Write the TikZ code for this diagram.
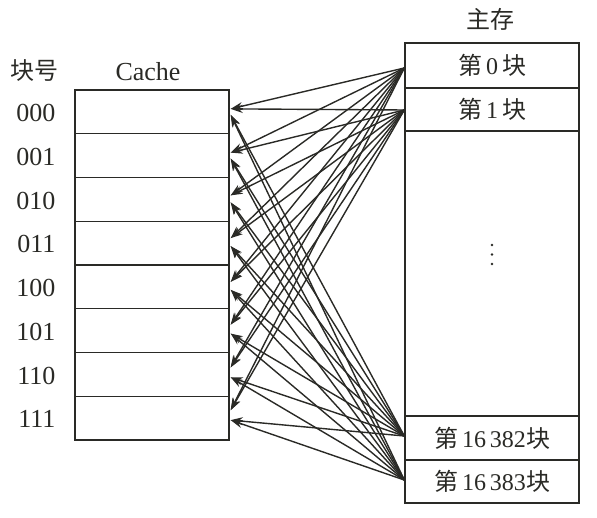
\documentclass[tikz,border=0pt]{standalone}
\usepackage{fontspec}
\setmainfont{Liberation Serif}
\newfontfamily\cjk{Noto Sans CJK SC}
\usetikzlibrary{arrows.meta,calc}
\definecolor{ink}{HTML}{2A2A26}
\begin{document}
\begin{tikzpicture}[x=1pt,y=-1pt,
  box/.style={draw=ink,line width=1.4pt,rectangle,inner sep=0pt,minimum width=154pt,minimum height=43.75pt},
  mbox/.style={draw=ink,line width=1.4pt,rectangle,inner sep=0pt,minimum width=174pt,font=\fontsize{24}{24}\selectfont,text=ink},
  lab/.style={font=\fontsize{26}{26}\selectfont,text=ink},
  clab/.style={font=\cjk\fontsize{24}{24}\selectfont,text=ink},
  arr/.style={draw=ink,line width=1.4pt,-{Stealth[length=12pt,width=8pt]}}]
\useasboundingbox (0,0) rectangle (597,518);
% headers
\node[clab] (h1) at (34,71) {块号};
\node[lab] (h2) at (148,72) {Cache};
\node[clab] (h3) at (490,19) {主存};
% cache rows
\foreach \i/\t in {0/000,1/001,2/010,3/011,4/100,5/101,6/110,7/111}{
  \node[box] (c\i) at (152,{111.875+43.75*\i}) {};
  \node[lab,anchor=east] (l\i) at (59,{113+43.75*\i}) {\t};
}
% main memory
\node[mbox,minimum height=45pt] (m0) at (492,65.5) {{\cjk 第}\,0\,{\cjk 块}};
\node[mbox,minimum height=43pt] (m1) at (492,109.5) {{\cjk 第}\,1\,{\cjk 块}};
\node[mbox,minimum height=285pt] (md) at (492,273.5) {};
\node[mbox,minimum height=44pt] (m2) at (492,438) {{\cjk 第}\,16\,382{\cjk 块}};
\node[mbox,minimum height=43pt] (m3) at (492,481.5) {{\cjk 第}\,16\,383{\cjk 块}};
% vertical ellipsis
\foreach \y in {245,254.5,264}{\fill[ink] (492,\y) circle (1.4pt);}
% sources
\coordinate (s0) at ($(m0.west)+(0,2.5)$);
\coordinate (s1) at ($(m1.west)+(0,0.5)$);
\coordinate (s2) at ($(m2.west)+(0,-2)$);
\coordinate (s3) at ($(m3.west)+(0,-1.5)$);
\foreach \i/\a/\b in {0/-3/3,1/-3/3,2/-4/3,3/-5/3,4/-5/3,5/-6/3,6/-7/3,7/-8/2}{
  \coordinate (u\i) at ($(c\i.east)+(1,\a)$);
  \coordinate (d\i) at ($(c\i.east)+(1,\b)$);
  \draw[arr] (s0) -- (u\i);
  \draw[arr] (s1) -- (u\i);
  \draw[arr] (s2) -- (d\i);
  \draw[arr] (s3) -- (d\i);
}
\end{tikzpicture}
\end{document}
